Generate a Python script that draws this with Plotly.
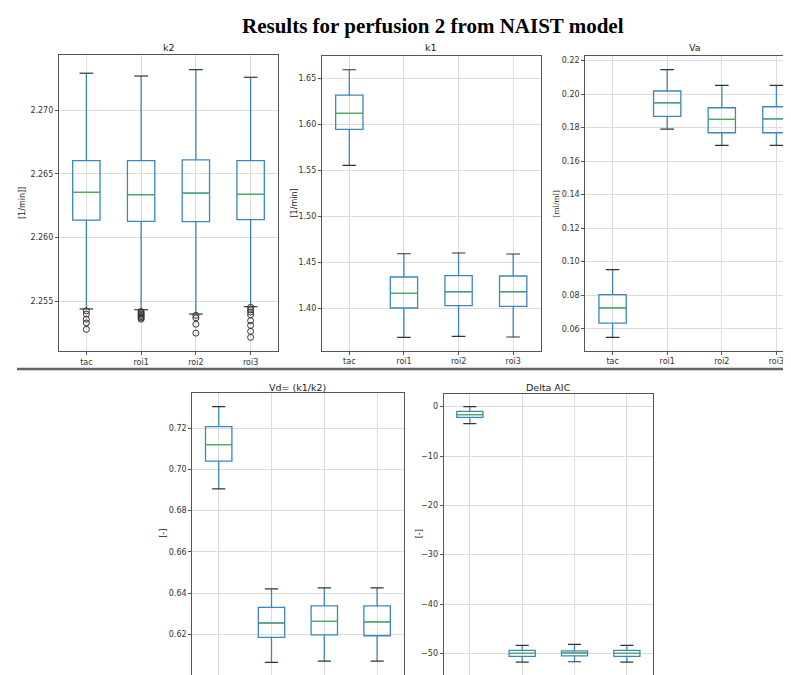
import plotly.graph_objects as go

# ---------------- data ----------------
categories = ["tac", "roi1", "roi2", "roi3"]
positions = [1, 2, 3, 4]

k2_lower = [2.25440, 2.25434, 2.25400, 2.25458]
k2_q1 = [2.26138, 2.26128, 2.26125, 2.26141]
k2_median = [2.26356, 2.26337, 2.26350, 2.26340]
k2_q3 = [2.26604, 2.26604, 2.26610, 2.26604]
k2_upper = [2.27291, 2.27269, 2.27319, 2.27259]
k2_outliers = [
    [2.25426, 2.25400, 2.25360, 2.25330, 2.25280],
    [2.25420, 2.25410, 2.25400, 2.25390, 2.25380, 2.25370, 2.25360],
    [2.25390, 2.25370, 2.25320, 2.25250],
    [2.25453, 2.25434, 2.25416, 2.25395, 2.25348, 2.25311, 2.25264, 2.25217],
]

k1_lower = [1.5551, 1.3681, 1.3692, 1.3685]
k1_q1 = [1.5942, 1.4000, 1.4025, 1.4018]
k1_median = [1.6116, 1.4159, 1.4177, 1.4177]
k1_q3 = [1.6315, 1.4337, 1.4351, 1.4348]
k1_upper = [1.6590, 1.4590, 1.4598, 1.4587]

va_lower = [0.0549, 0.1791, 0.1694, 0.1694]
va_q1 = [0.0634, 0.1867, 0.1769, 0.1769]
va_median = [0.0724, 0.1948, 0.1849, 0.1852]
va_q3 = [0.0803, 0.2018, 0.1918, 0.1924]
va_upper = [0.0952, 0.2145, 0.2052, 0.2052]

vd_lower = [0.6906, 0.6064, 0.6070, 0.6070]
vd_q1 = [0.7040, 0.6185, 0.6197, 0.6193]
vd_median = [0.7120, 0.6255, 0.6263, 0.6260]
vd_q3 = [0.7208, 0.6331, 0.6338, 0.6338]
vd_upper = [0.7305, 0.6420, 0.6425, 0.6425]

aic_lower = [-3.45, -51.8, -51.7, -51.8]
aic_q1 = [-2.16, -50.6, -50.5, -50.6]
aic_median = [-1.60, -50.0, -49.9, -50.0]
aic_q3 = [-0.94, -49.4, -49.5, -49.4]
aic_upper = [0.00, -48.4, -48.2, -48.4]

main_title = "Results for perfusion 2 from NAIST model"

# ---------------- layout helpers ----------------
W, H = 791, 675


def px_x(p):
    return p / W


def px_y(p):
    return 1 - p / H


BLUE = "#3a86c0"
GREEN = "#4caf50"
GRID = "#dcdcdc"
AXC = "#555555"
TICKFONT = dict(family="DejaVu Sans", size=8, color="#333333")

panels = [
    dict(title="k2", ylabel="[1/min]]", lower=k2_lower, q1=k2_q1, med=k2_median, q3=k2_q3,
         upper=k2_upper, outliers=k2_outliers,
         xdom=(51, 270), ydom=(47, 343), xr=(0.5, 4.5), yr=(2.2511, 2.27434),
         dtick=0.005, fmt=".3f", ylab_x=15, title_y=40, mirror_y=True, serif=False),
    dict(title="k1", ylabel="[1/min]", lower=k1_lower, q1=k1_q1, med=k1_median, q3=k1_q3,
         upper=k1_upper, outliers=None,
         xdom=(314, 532.5), ydom=(48.3, 342.7), xr=(0.5, 4.5), yr=(1.3536, 1.6736),
         dtick=0.05, fmt=".2f", ylab_x=286, title_y=40, mirror_y=True, serif=False),
    dict(title="Va", ylabel="[ml/ml]", lower=va_lower, q1=va_q1, med=va_median, q3=va_q3,
         upper=va_upper, outliers=None,
         xdom=(577.3, 791), ydom=(48.3, 342.7), xr=(0.5, 4.414), yr=(0.0469, 0.2225),
         dtick=0.02, fmt=".2f", ylab_x=547, title_y=40, mirror_y=False, serif=True,
         title_cx=686.5),
    dict(title="Vd= (k1/k2)", ylabel="[-]", lower=vd_lower, q1=vd_q1, med=vd_median, q3=vd_q3,
         upper=vd_upper, outliers=None,
         xdom=(184.3, 395.5), ydom=(385, 666.7), xr=(0.5, 4.5), yr=(0.6004, 0.7371),
         dtick=0.02, fmt=".2f", ylab_x=156, title_y=379, mirror_y=True, serif=False),
    dict(title="Delta AIC", ylabel="[-]", lower=aic_lower, q1=aic_q1, med=aic_median, q3=aic_q3,
         upper=aic_upper, outliers=None,
         xdom=(435.7, 645), ydom=(386, 666.7), xr=(0.5, 4.5), yr=(-54.33, 2.57),
         dtick=10, fmt="d", ylab_x=411, title_y=379, mirror_y=True, serif=False),
]

fig = go.Figure()
annotations = []

for i, p in enumerate(panels):
    sfx = "" if i == 0 else str(i + 1)
    xa, ya = "x" + sfx, "y" + sfx

    fig.add_trace(go.Box(
        x=positions, q1=p["q1"], median=p["med"], q3=p["q3"],
        lowerfence=p["lower"], upperfence=p["upper"],
        width=0.5, whiskerwidth=0, boxpoints=False,
        line=dict(color=BLUE, width=1.3), fillcolor="rgba(0,0,0,0)",
        xaxis=xa, yaxis=ya, hoverinfo="skip",
    ))

    # caps (dark) and medians (green)
    cx, cy, mx, my = [], [], [], []
    for pos, lo, hi, m in zip(positions, p["lower"], p["upper"], p["med"]):
        cx += [pos - 0.125, pos + 0.125, None, pos - 0.125, pos + 0.125, None]
        cy += [lo, lo, None, hi, hi, None]
        mx += [pos - 0.25, pos + 0.25, None]
        my += [m, m, None]
    fig.add_trace(go.Scatter(x=cx, y=cy, mode="lines", line=dict(color="#333333", width=1.2),
                             xaxis=xa, yaxis=ya, hoverinfo="skip"))
    fig.add_trace(go.Scatter(x=mx, y=my, mode="lines", line=dict(color=GREEN, width=1.2),
                             xaxis=xa, yaxis=ya, hoverinfo="skip"))

    if p["outliers"]:
        ox, oy = [], []
        for pos, vals in zip(positions, p["outliers"]):
            ox += [pos] * len(vals)
            oy += vals
        fig.add_trace(go.Scatter(x=ox, y=oy, mode="markers",
                                 marker=dict(symbol="circle-open", size=6, color="#333333",
                                             line=dict(width=1)),
                                 xaxis=xa, yaxis=ya, hoverinfo="skip"))

    xkey = "xaxis" + sfx
    ykey = "yaxis" + sfx
    fig.update_layout({
        xkey: dict(domain=[px_x(p["xdom"][0]), px_x(p["xdom"][1])], range=list(p["xr"]),
                   anchor=ya, tickvals=positions, ticktext=categories,
                   showgrid=True, gridcolor=GRID, gridwidth=1, zeroline=False,
                   showline=True, mirror=True, linecolor=AXC, linewidth=1.2,
                   ticks="outside", ticklen=3, tickcolor=AXC, tickfont=TICKFONT,
                   automargin=False, fixedrange=True),
        ykey: dict(domain=[px_y(p["ydom"][1]), px_y(p["ydom"][0])], range=list(p["yr"]),
                   anchor=xa, dtick=p["dtick"], tickformat=p["fmt"],
                   showgrid=True, gridcolor=GRID, gridwidth=1, zeroline=False,
                   showline=True, mirror=p["mirror_y"], linecolor=AXC, linewidth=1.2,
                   ticks="outside", ticklen=3, tickcolor=AXC, tickfont=TICKFONT,
                   automargin=False, fixedrange=True),
    })

    tcx = p.get("title_cx", (p["xdom"][0] + p["xdom"][1]) / 2)
    annotations.append(dict(text=p["title"], x=px_x(tcx), y=px_y(p["title_y"]),
                            xref="paper", yref="paper", showarrow=False,
                            xanchor="center", yanchor="middle",
                            font=dict(family="DejaVu Sans", size=9.5, color="#222222")))
    annotations.append(dict(text=p["ylabel"], x=px_x(p["ylab_x"]),
                            y=px_y((p["ydom"][0] + p["ydom"][1]) / 2),
                            xref="paper", yref="paper", showarrow=False, textangle=-90,
                            xanchor="center", yanchor="middle",
                            font=dict(family="Liberation Serif" if p["serif"] else "DejaVu Sans",
                                      size=9 if p["serif"] else 8, color="#222222")))

annotations.append(dict(text=main_title, x=px_x(425), y=px_y(18), xref="paper", yref="paper",
                        showarrow=False, xanchor="center", yanchor="middle",
                        font=dict(family="Liberation Serif", size=21, color="#000000",
                                  weight="bold")))

fig.update_layout(
    width=W, height=H,
    margin=dict(l=0, r=0, t=0, b=0),
    paper_bgcolor="white", plot_bgcolor="white",
    showlegend=False,
    annotations=annotations,
    shapes=[dict(type="line", xref="paper", yref="paper", x0=px_x(9), x1=1,
                 y0=px_y(361), y1=px_y(361), line=dict(color="#666666", width=2.5))],
)

fig.write_html("out.html")
